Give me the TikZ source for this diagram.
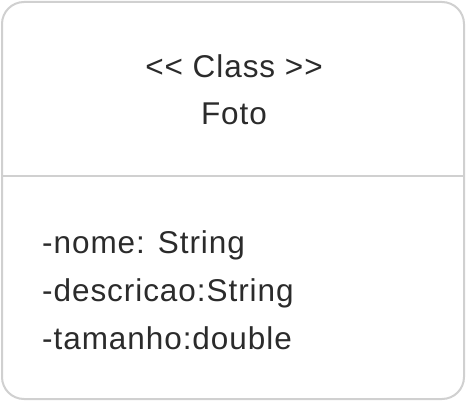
\documentclass[tikz,border=0pt]{standalone}
\usepackage{fontspec}
\setmainfont{Liberation Sans}[Ligatures=TeXOff, LetterSpace=3]
\usepackage{tikz}
\usetikzlibrary{positioning}
\definecolor{BorderGray}{RGB}{208, 208, 208}
\definecolor{TextDark}{RGB}{43, 43, 43}

\begin{document}
\begin{tikzpicture}[x=1pt, y=-1pt,
    label text/.style={text=TextDark, font=\fontsize{31.5}{36}\selectfont, inner sep=0pt}]
    \useasboundingbox (0,0) rectangle (466,401);

    % Class box
    \draw[line width=2pt, BorderGray, rounded corners=22pt] (2,2) rectangle (464,399);
    \coordinate (divL) at (2,176);
    \coordinate (divR) at (464,176);
    \draw[line width=1.5pt, BorderGray] (divL) -- (divR);

    % Header
    \node[label text, anchor=base] (stereo) at (234,78) {<< Class >>};
    \node[label text, anchor=base] (name) at (234,125) {Foto};

    % Attributes
    \node[label text, anchor=base west] (attrA) at (42,253) {-nome: String};
    \node[label text, anchor=base west] (attrB) at (42,301) {-descricao:String};
    \node[label text, anchor=base west] (attrC) at (42,349) {-tamanho:double};
  \end{tikzpicture}
\end{document}
